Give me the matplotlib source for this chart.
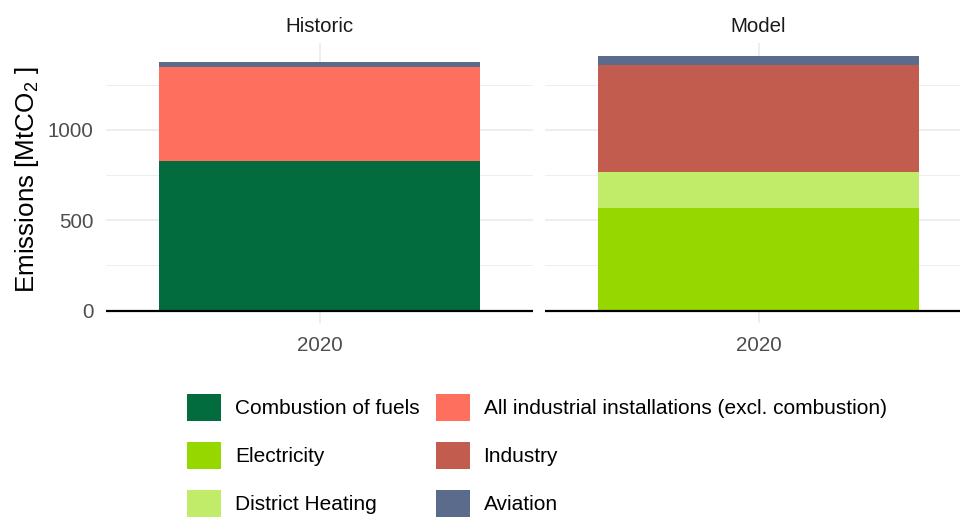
import matplotlib
import matplotlib.pyplot as plt
from matplotlib.patches import Patch

plt.switch_backend("agg")
plt.rcParams["font.family"] = ["Liberation Sans", "DejaVu Sans"]
plt.rcParams["mathtext.fontset"] = "custom"
plt.rcParams["mathtext.rm"] = "Liberation Sans"
plt.rcParams["mathtext.it"] = "Liberation Sans"


YEARS = ["2020"]
PANELS = ["Historic", "Model"]

# sector emissions per panel, MtCO2, in stacking order (bottom first)
HISTORIC_SECTORS = ["Combustion of fuels", "All industrial installations (excl. combustion)", "Aviation"]
HISTORIC_VALUES = [828, 521, 27]

MODEL_SECTORS = ["Electricity", "District Heating", "Industry", "Aviation"]
MODEL_VALUES = [568, 200, 592, 50]

LEGEND_ORDER = [
    "Combustion of fuels",
    "Electricity",
    "District Heating",
    "All industrial installations (excl. combustion)",
    "Industry",
    "Aviation",
]

COLORS = {
    "Combustion of fuels": "#036c3f",
    "All industrial installations (excl. combustion)": "#ff6f5e",
    "Electricity": "#96d700",
    "District Heating": "#c0ec6a",
    "Industry": "#c15c4e",
    "Aviation": "#5a6b8c",
}

GRID = "#ebebeb"
TICK_COLOR = "#4d4d4d"

W, H = 960, 518
fig = plt.figure(figsize=(W / 100, H / 100), dpi=100)

top_px, bottom_px = 43, 323.4
panel_w = 427
panel_lefts = [106, 545]

ymax_data = max(sum(HISTORIC_VALUES), sum(MODEL_VALUES))
pad = 0.05 * ymax_data
ylim = (-pad, ymax_data + pad)

axes = []
for left_px, panel, sectors, values in zip(
    panel_lefts, PANELS, [HISTORIC_SECTORS, MODEL_SECTORS], [HISTORIC_VALUES, MODEL_VALUES]
):
    ax = fig.add_axes([left_px / W, 1 - bottom_px / H, panel_w / W, (bottom_px - top_px) / H])
    axes.append(ax)

    x = list(range(len(YEARS)))
    base = [0] * len(YEARS)
    for sector, val in zip(sectors, values):
        ax.bar(x, [val], bottom=base, width=0.9, color=COLORS[sector], zorder=2, linewidth=0)
        base = [b + val for b in base]

    ax.axhline(0, color="black", linewidth=1.6, zorder=3)

    ax.set_xlim(-0.6, len(YEARS) - 0.4)
    ax.set_ylim(*ylim)
    ax.set_xticks(x)
    ax.set_xticklabels(YEARS)
    ax.set_yticks([0, 500, 1000])
    ax.set_yticks([250, 750, 1250], minor=True)
    ax.grid(True, which="major", color=GRID, linewidth=1.2, zorder=0)
    ax.grid(True, which="minor", axis="y", color=GRID, linewidth=0.6, zorder=0)
    ax.set_axisbelow(True)
    ax.tick_params(which="both", length=0, labelsize=14.8, colors=TICK_COLOR, pad=9)
    for s in ax.spines.values():
        s.set_visible(False)
    ax.set_title(panel, fontsize=14.8, color="#1a1a1a", pad=8)

axes[1].tick_params(axis="y", labelleft=False)
axes[0].set_ylabel("Emissions [MtCO$_2$ ]", fontsize=18.7, color="black")
axes[0].yaxis.set_label_coords(-0.153, 0.512)

handles = [Patch(facecolor=COLORS[name], edgecolor="none") for name in LEGEND_ORDER]
fig.legend(
    handles,
    LEGEND_ORDER,
    ncol=2,
    loc="upper left",
    bbox_to_anchor=(187 / W, 1 - 394 / H),
    frameon=False,
    fontsize=15,
    handlelength=1.63,
    handleheight=1.63,
    handletextpad=0.67,
    columnspacing=0.77,
    labelspacing=1.0,
    borderpad=0,
    borderaxespad=0,
)

fig.savefig("out.png", dpi=100)
